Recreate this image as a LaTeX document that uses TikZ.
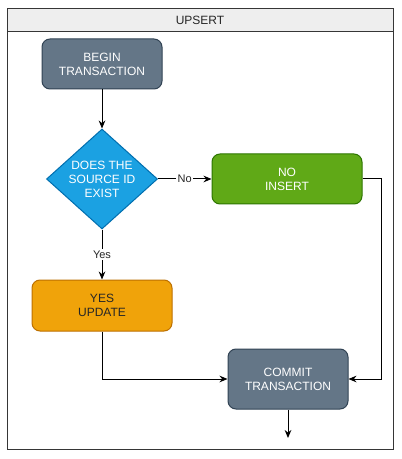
\documentclass[tikz,border=0pt]{standalone}
\usepackage{fontspec}
\setmainfont{Liberation Sans}
\usetikzlibrary{shapes.geometric,arrows.meta}
\definecolor{slatefill}{HTML}{647687}
\definecolor{slateline}{HTML}{314354}
\definecolor{bluefill}{HTML}{1BA1E2}
\definecolor{blueline}{HTML}{006EAF}
\definecolor{greenfill}{HTML}{60A917}
\definecolor{greenline}{HTML}{2D7600}
\definecolor{orangefill}{HTML}{F0A30A}
\definecolor{orangeline}{HTML}{BD7000}
\definecolor{headfill}{HTML}{EEEEEE}
\definecolor{frameline}{HTML}{363636}
\tikzset{
  px/.style={x=0.75pt,y=-0.75pt},
  boxbase/.style={rectangle,rounded corners=6pt,align=center,font=\fontsize{9}{10.5}\selectfont,inner sep=0pt,line width=0.75pt},
  slatebox/.style={boxbase,fill=slatefill,draw=slateline,text=white,minimum width=90pt,minimum height=37.5pt},
  greenbox/.style={boxbase,fill=greenfill,draw=greenline,text=white,minimum width=112.5pt,minimum height=37.5pt},
  orangebox/.style={boxbase,fill=orangefill,draw=orangeline,text=black!85,minimum width=105pt,minimum height=38.25pt},
  decision/.style={diamond,aspect=1.1,fill=bluefill,draw=blueline,text=white,align=center,font=\fontsize{9}{10.5}\selectfont,inner sep=0pt,minimum width=83pt,minimum height=75pt,line width=0.75pt},
  conn/.style={draw=black,line width=0.75pt,-{Stealth[length=6pt,width=5pt]}},
  edgelabel/.style={fill=white,inner sep=1pt,font=\fontsize{8.25}{9}\selectfont,text=black!85},
}
\begin{document}
\begin{tikzpicture}[px]
\useasboundingbox (0,0) rectangle (401,459);
% frame
\draw[frameline,line width=0.75pt,fill=white] (7,9) rectangle (393,449);
\draw[frameline,line width=0.75pt,fill=headfill] (7,9) rectangle (393,32);
\node[font=\fontsize{9}{10.5}\selectfont,text=black!85] (title) at (200,20.5) {UPSERT};
% nodes
\node[slatebox] (begin) at (102,64) {BEGIN\\TRANSACTION};
\node[decision,minimum width=83.25pt,minimum height=75pt] (dec) at (102,179) {DOES THE\\SOURCE ID\\EXIST};
\node[greenbox] (ins) at (287,179) {NO\\INSERT};
\node[orangebox] (upd) at (102,305.5) {YES\\UPDATE};
\node[slatebox,minimum height=45pt] (commit) at (288,379) {COMMIT\\TRANSACTION};
\coordinate (endpt) at (288,438);
% connectors
\draw[conn] (begin.south) -- (dec.north);
\draw[conn] (dec.east) -- node[edgelabel,pos=0.5]{No} (ins.west);
\draw[conn] (dec.south) -- node[edgelabel,pos=0.5]{Yes} (upd.north);
\draw[conn] (ins.east) -| ++(19,0) |- (commit.east);
\draw[conn] (upd.south) |- (commit.west);
\draw[conn] (commit.south) -- (endpt);
\end{tikzpicture}
\end{document}
